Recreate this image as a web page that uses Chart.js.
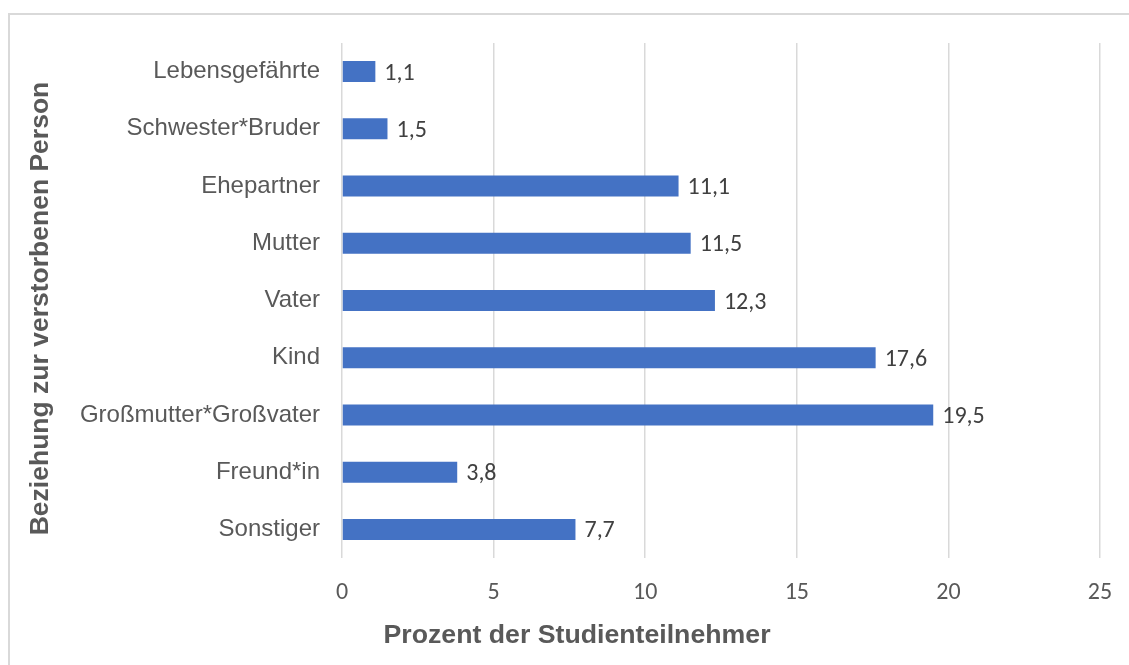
<!DOCTYPE html>
<html>
<head>
<meta charset="utf-8">
<script src="https://cdn.jsdelivr.net/npm/chart.js@4"></script>
<style>
    body { margin: 0; background: #fff; overflow: hidden; }
    #wrap { position: relative; width: 1129px; height: 665px; }
    #frame { position: absolute; left: 8px; top: 13px; width: 1200px; height: 700px; border: 2px solid #d9d9d9; box-sizing: border-box; }
    #chart { position: absolute; left: 0; top: 0; }
</style>
</head>
<body>
<div id="wrap">
    <div id="frame"></div>
    <canvas id="chart" width="1129" height="665"></canvas>
</div>
<script>
/* Data */
const categories = ["Lebensgefährte", "Schwester*Bruder", "Ehepartner", "Mutter", "Vater", "Kind", "Großmutter*Großvater", "Freund*in", "Sonstiger"];
const percentValues = [1.1, 1.5, 11.1, 11.5, 12.3, 17.6, 19.5, 3.8, 7.7];
const xTicks = [0, 5, 10, 15, 20, 25];
const xTitle = "Prozent der Studienteilnehmer";
const yTitle = "Beziehung zur verstorbenen Person";

const TICK_FONT = "Carlito, Lato, sans-serif";
const LABEL_FONT = "'Liberation Sans', Arial, sans-serif";

// value labels right of each bar (German decimal comma) + both axis titles
const valueLabels = {
    id: 'valueLabels',
    afterDatasetsDraw(chart) {
        const ctx = chart.ctx;
        const meta = chart.getDatasetMeta(0);
        const area = chart.chartArea;
        ctx.save();
        ctx.font = "24px " + TICK_FONT;
        ctx.fillStyle = "#404040";
        ctx.textAlign = "left";
        ctx.textBaseline = "middle";
        meta.data.forEach((bar, i) => {
            const txt = percentValues[i].toFixed(1).replace('.', ',');
            ctx.fillText(txt, bar.x + 9, bar.y + 2);
        });

        // titles are a bit off-centre in the original
        ctx.font = "bold 26.7px " + LABEL_FONT;
        ctx.fillStyle = "#595959";
        ctx.textAlign = "center";
        ctx.fillText(xTitle, area.left + 235, 636);

        ctx.font = "bold 26.5px " + LABEL_FONT;
        ctx.translate(area.left - 301, (area.top + area.bottom) / 2 + 8);
        ctx.rotate(-Math.PI / 2);
        ctx.fillText(yTitle, 0, 0);
        ctx.restore();
    }
};

const config = {
    type: 'bar',
    data: {
        labels: categories,
        datasets: [{
            data: percentValues,
            backgroundColor: "#4472c4",
            borderWidth: 0,
            categoryPercentage: 1,
            barPercentage: 0.367
        }]
    },
    options: {
        indexAxis: 'y',
        responsive: false,
        animation: false,
        devicePixelRatio: 1,
        layout: { padding: { top: 43, left: 20, right: 29, bottom: 0 } },
        plugins: {
            legend: { display: false },
            tooltip: { enabled: false }
        },
        scales: {
            x: {
                min: 0,
                max: 25,
                z: 1,
                afterBuildTicks: (scale) => { scale.ticks = xTicks.map(v => ({ value: v })); },
                afterFit: (scale) => {
                    scale.height = 107;
                    scale.paddingLeft = 0;
                    scale.paddingRight = 0;
                },
                grid: { color: "#d9d9d9", lineWidth: 1.5, drawTicks: false },
                border: { display: false },
                ticks: {
                    padding: 21,
                    color: "#595959",
                    font: { family: TICK_FONT, size: 24 }
                }
            },
            y: {
                afterFit: (scale) => { scale.width = 322; },
                grid: { display: false, drawTicks: false },
                border: { display: false },
                ticks: {
                    padding: 22,
                    color: "#595959",
                    font: { family: LABEL_FONT, size: 24 }
                }
            }
        }
    },
    plugins: [valueLabels]
};

new Chart(document.getElementById('chart'), config);
</script>
</body>
</html>
